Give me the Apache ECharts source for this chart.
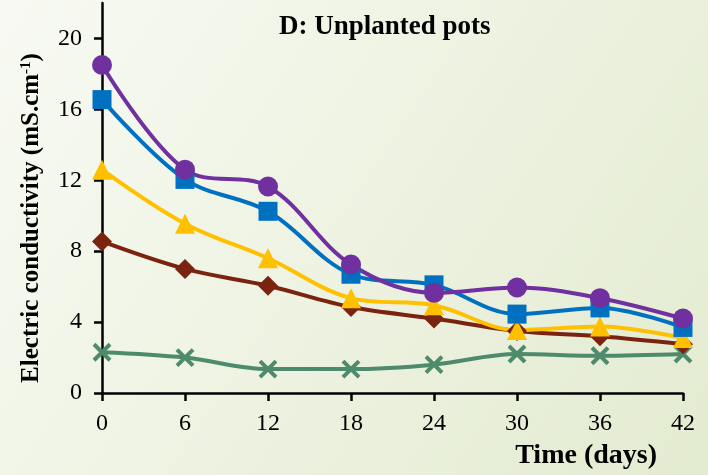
<!DOCTYPE html>
<html>
<head>
<meta charset="utf-8">
<style>
  html, body { margin: 0; padding: 0; }
  #chart { width: 708px; height: 475px; }
</style>
<script src="https://cdn.jsdelivr.net/npm/echarts@6/dist/echarts.min.js"></script>
</head>
<body>
<div id="chart"></div>
<script>
// Sampling days (x axis)
const days = [0, 6, 12, 18, 24, 30, 36, 42];
const yTicks = [0, 4, 8, 12, 16, 20];

// Electric conductivity per treatment (mS.cm-1)
const purpleSeries = [18.5, 12.6, 11.65, 7.25, 5.65, 5.95, 5.35, 4.2];
const blueSeries   = [16.55, 12.05, 10.25, 6.7, 6.1, 4.45, 4.8, 3.7];
const yellowSeries = [12.6, 9.55, 7.6, 5.35, 4.95, 3.55, 3.75, 3.1];
const brownSeries  = [8.55, 7.0, 6.05, 4.85, 4.2, 3.5, 3.2, 2.75];
const greenSeries  = [2.3, 2.0, 1.35, 1.35, 1.6, 2.2, 2.1, 2.2];

const serif = '"Liberation Serif", "Times New Roman", serif';

function pairs(values) {
  return days.map((d, i) => [d, values[i]]);
}

function lineSeries(values, color, symbol, size, extraItem) {
  return {
    type: 'line',
    data: pairs(values),
    smooth: 0.35,
    symbol: symbol,
    symbolSize: size,
    showAllSymbol: true,
    lineStyle: { color: color, width: 4 },
    itemStyle: Object.assign({ color: color, opacity: 1 }, extraItem || {}),
    emphasis: { disabled: true },
    clip: false
  };
}

const chart = echarts.init(document.getElementById('chart'), null, { renderer: 'canvas' });

chart.setOption({
  animation: false,
  backgroundColor: new echarts.graphic.LinearGradient(0, 0, 1, 1, [
    { offset: 0, color: '#F8FAF3' },
    { offset: 1, color: '#E3EBD0' }
  ]),
  title: {
    text: 'D: Unplanted pots',
    left: 274,
    top: 9,
    textStyle: { fontFamily: serif, fontWeight: 'bold', fontSize: 27, color: '#000' }
  },
  grid: { left: 102, right: 25, top: 3, bottom: 82, containLabel: false },
  xAxis: {
    type: 'value',
    min: 0,
    max: 42,
    interval: 6,
    name: 'Time (days)',
    nameLocation: 'end',
    nameGap: -26,
    nameTextStyle: {
      fontFamily: serif, fontWeight: 'bold', fontSize: 28, color: '#000',
      align: 'right', verticalAlign: 'top', padding: [49, 0, 0, 0]
    },
    axisLine: { lineStyle: { color: '#000', width: 2.5 } },
    axisTick: { show: true, inside: false, length: 8, lineStyle: { color: '#000', width: 2.5 } },
    axisLabel: { fontFamily: serif, fontSize: 24, color: '#000', margin: 19 },
    splitLine: { show: false }
  },
  yAxis: {
    type: 'value',
    min: 0,
    max: 22,
    interval: 4,
    name: 'Electric conductivity (mS.cm{sup|-1})',
    nameLocation: 'middle',
    nameGap: 58,
    nameTextStyle: {
      fontFamily: serif, fontWeight: 'bold', fontSize: 25, color: '#000',
      padding: [0, 40, 0, 0],
      rich: {
        sup: { fontFamily: serif, fontWeight: 'bold', fontSize: 15, color: '#000', verticalAlign: 'top' }
      }
    },
    axisLine: { lineStyle: { color: '#000', width: 2.5 } },
    axisTick: { show: true, inside: false, length: 8, lineStyle: { color: '#000', width: 2.5 }, customValues: yTicks },
    axisLabel: { fontFamily: serif, fontSize: 24, color: '#000', margin: 20, customValues: yTicks },
    splitLine: { show: false }
  },
  series: [
    lineSeries(greenSeries, '#4E8A6C', 'path://M0,0L10,10M10,0L0,10', 16,
      { borderColor: '#4E8A6C', borderWidth: 4 }),
    lineSeries(brownSeries, '#7A2410', 'diamond', 20),
    lineSeries(yellowSeries, '#FFC000', 'triangle', 20),
    lineSeries(blueSeries, '#0070C0', 'rect', 19),
    lineSeries(purpleSeries, '#7030A0', 'circle', 20)
  ]
});
</script>
</body>
</html>
